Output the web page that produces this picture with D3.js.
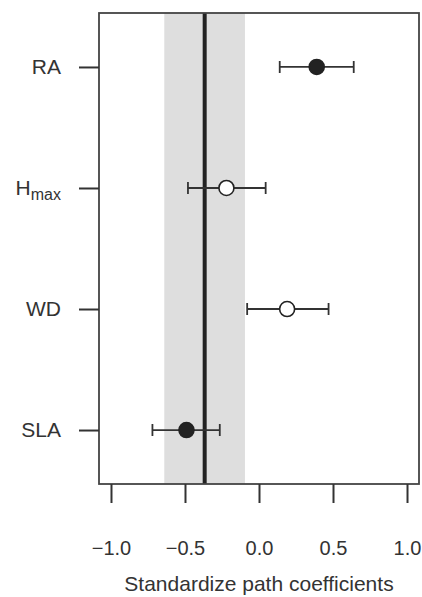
<!DOCTYPE html>
<html>
<head>
<meta charset="utf-8">
<script src="https://cdn.jsdelivr.net/npm/d3@7"></script>
<style>
  body { margin: 0; background: #fff; }
  text { font-family: "Liberation Sans", Arial, sans-serif; fill: #333; }
</style>
</head>
<body>
<div class="forest"></div>
<script>
// data
const traits = ["RA", "Hmax", "WD", "SLA"];
const estimate = [0.39, -0.22, 0.19, -0.49];
const lower = [0.14, -0.48, -0.08, -0.72];
const upper = [0.64, 0.045, 0.47, -0.265];
const significant = [true, false, false, true];
const xTicks = [-1.0, -0.5, 0.0, 0.5, 1.0];
const meanEffect = -0.367;
const meanBand = [-0.64, -0.095];

const xSize = 422; const ySize = 597;
const boxL = 99, boxR = 419, boxT = 13, boxB = 484;

const svg = d3.select(".forest")
    .append("svg")
    .attr("width", xSize)
    .attr("height", ySize);

const x = d3.scaleLinear()
    .domain([-1.081, 1.081])
    .range([boxL, boxR]);

const y = d3.scalePoint()
    .domain(traits)
    .range([boxT, boxB])
    .padding(0.446);

// grey band for the mean CI
svg.append("rect")
    .attr("x", x(meanBand[0]))
    .attr("y", boxT)
    .attr("width", x(meanBand[1]) - x(meanBand[0]))
    .attr("height", boxB - boxT)
    .attr("fill", "#dedede");

// mean line
svg.append("line")
    .attr("x1", x(meanEffect)).attr("x2", x(meanEffect))
    .attr("y1", boxT).attr("y2", boxB)
    .attr("stroke", "#222")
    .attr("stroke-width", 4);

// box
svg.append("rect")
    .attr("x", boxL).attr("y", boxT)
    .attr("width", boxR - boxL).attr("height", boxB - boxT)
    .attr("fill", "none")
    .attr("stroke", "#444")
    .attr("stroke-width", 1.8);

// bottom axis
const xAxis = svg.append("g")
    .attr("transform", "translate(0," + boxB + ")")
    .call(d3.axisBottom(x).tickValues(xTicks).tickSize(19).tickPadding(0)
        .tickFormat(d => d3.format(".1f")(d).replace("-", "\u2212")));
xAxis.select(".domain").remove();
xAxis.selectAll(".tick line").attr("stroke", "#333").attr("stroke-width", 2);
xAxis.selectAll(".tick text")
    .attr("y", 71).attr("dy", 0)
    .style("font-size", "20px")
    .attr("fill", "#333");

// left axis
const yAxis = svg.append("g")
    .attr("transform", "translate(" + boxL + ",0)")
    .call(d3.axisLeft(y).tickSize(20).tickPadding(18).tickFormat(""));
yAxis.select(".domain").remove();
yAxis.selectAll(".tick line").attr("stroke", "#333").attr("stroke-width", 2);

svg.selectAll(".ylab")
    .data(traits)
    .enter()
    .append("text")
    .attr("class", "ylab")
    .attr("x", 61)
    .attr("y", d => y(d) + 7)
    .attr("text-anchor", "end")
    .style("font-size", "21px")
    .each(function(d) {
        const t = d3.select(this);
        if (d === "Hmax") {
            t.append("tspan").text("H");
            t.append("tspan").text("max").attr("dy", 5).style("font-size", "16px");
        } else {
            t.text(d);
        }
    });

// error bars
const rows = traits.map((t, i) => ({t: t, est: estimate[i], lo: lower[i], hi: upper[i], sig: significant[i]}));
const g = svg.append("g");
g.selectAll(".ci")
    .data(rows).enter().append("line")
    .attr("x1", d => x(d.lo)).attr("x2", d => x(d.hi))
    .attr("y1", d => y(d.t)).attr("y2", d => y(d.t))
    .attr("stroke", "#333").attr("stroke-width", 1.8);
g.selectAll(".caplo")
    .data(rows).enter().append("line")
    .attr("x1", d => x(d.lo)).attr("x2", d => x(d.lo))
    .attr("y1", d => y(d.t) - 6).attr("y2", d => y(d.t) + 6)
    .attr("stroke", "#333").attr("stroke-width", 1.8);
g.selectAll(".caphi")
    .data(rows).enter().append("line")
    .attr("x1", d => x(d.hi)).attr("x2", d => x(d.hi))
    .attr("y1", d => y(d.t) - 6).attr("y2", d => y(d.t) + 6)
    .attr("stroke", "#333").attr("stroke-width", 1.8);
g.selectAll("circle")
    .data(rows).enter().append("circle")
    .attr("cx", d => x(d.est))
    .attr("cy", d => y(d.t))
    .attr("r", 7.5)
    .attr("fill", d => d.sig ? "#222" : "#fff")
    .attr("stroke", "#222")
    .attr("stroke-width", 1.6);

// axis title
svg.append("text")
    .attr("x", (boxL + boxR) / 2)
    .attr("y", 591)
    .attr("text-anchor", "middle")
    .style("font-size", "21px")
    .text("Standardize path coefficients");
</script>
</body>
</html>
